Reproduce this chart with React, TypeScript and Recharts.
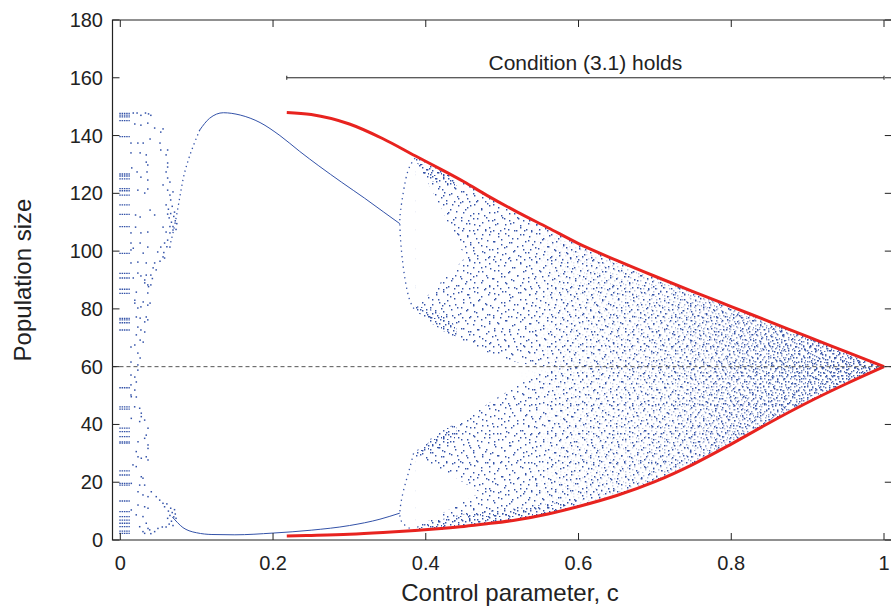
import React from "react";
import { Area, ComposedChart, Line, ReferenceArea, ReferenceLine, Scatter, XAxis, YAxis } from "recharts";

// layout (page pixels, body margin removed)
const W = 893;
const H = 608;
const PLOT_LEFT = 112.5;
const PLOT_TOP = 20;
const PLOT_RIGHT = 891.8;
const PLOT_BOTTOM = 540;

const BLUE = "#3352a8";
const RED = "#e8231f";
const INK = "#222";
const FONT = "'Liberation Sans', Arial, Helvetica, sans-serif";

const X_DOMAIN = [-0.0102, 1.0102];
const xTicks = [0, 0.2, 0.4, 0.6, 0.8, 1];
const yTicks = [0, 20, 40, 60, 80, 100, 120, 140, 160, 180];

// red envelope curves
const redC = [0.218, 0.25, 0.3, 0.344, 0.386, 0.42, 0.45, 0.48, 0.52, 0.56, 0.6, 0.65, 0.7, 0.75, 0.8, 0.85, 0.9, 0.95, 1];
const redTop = [148, 147.3, 144, 138.9, 133, 128.3, 124, 119.3, 113.5, 108.1, 102.6, 96.8, 91.3, 86, 80.8, 75.6, 70.4, 65.2, 60];
const redBottom = [1.4, 1.6, 2, 2.6, 3.3, 4, 4.7, 5.6, 7, 9, 11.6, 15.4, 20.2, 26.2, 33.2, 40.6, 47.6, 54, 60];

// chaotic band (c >= 0.386): inner edges of the upper and lower clouds
const cloudC = redC.slice(4);
const upperInner = [79.5, 73.5, 68.8, 65, 61.5, 60, 60, 60, 60, 60, 60, 60, 60, 60, 60];
const lowerInner = [30, 37, 42, 47, 53.5, 58.5, 60, 60, 60, 60, 60, 60, 60, 60, 60];

// denser streaks where the fans start
const fanTopC = [0.386, 0.41, 0.44];
const fanTopLo = [131.5, 124, 122.5];
const fanTopHi = [133, 129.8, 125.3];
const fanMidC = [0.386, 0.41, 0.44];
const fanMidLo = [79.5, 74.5, 69.8];
const fanMidHi = [81, 79.5, 74];
const fanLowC = [0.386, 0.41, 0.44];
const fanLowLo = [28.5, 31, 35.5];
const fanLowHi = [30.5, 35.8, 40.5];
const fanBotC = [0.386, 0.45, 0.52, 0.6];
const fanBotLo = [3.3, 4.7, 7, 11.6];
const fanBotHi = [4.5, 9, 11, 14];

// empty wedges inside the clouds
const holeUpC = [0.386, 0.4, 0.42, 0.44, 0.452];
const holeUpLo = [80.5, 84, 89.3, 94.5, 98];
const holeUpHi = [131.5, 125, 115, 103.5, 98.2];
const holeLowC = [0.386, 0.41, 0.44, 0.47];
const holeLowLo = [4.3, 7.5, 12, 16.3];
const holeLowHi = [29, 25.8, 21.4, 16.6];

// period-2 branches
const riseC = [0.066, 0.072, 0.078, 0.082, 0.089, 0.096, 0.104];
const riseV = [103, 110, 118.8, 124.6, 131.5, 136.7, 141.9];
const upperC = [0.104, 0.117, 0.135, 0.157, 0.183, 0.209, 0.235, 0.26, 0.29, 0.32, 0.345, 0.366];
const upperV = [141.9, 146, 147.9, 147.1, 144.5, 140, 134.5, 129.5, 123.8, 118.3, 113.5, 109.5];
const lowerC = [0.068, 0.075, 0.082, 0.09, 0.1, 0.12, 0.15, 0.2, 0.25, 0.3, 0.34, 0.366];
const lowerV = [8, 6, 4.3, 3.2, 2.5, 1.9, 1.8, 2.4, 3.4, 5, 7.2, 9.3];

// period-doubling arcs near c = 0.37
const arcUpC = [0.386, 0.377, 0.371, 0.367, 0.366, 0.367, 0.369, 0.373, 0.379, 0.386];
const arcUpV = [132.2, 128, 121, 114, 109.7, 104, 98, 90, 83, 79.5];
const arcLowC = [0.384, 0.377, 0.37, 0.366, 0.37, 0.379, 0.386];
const arcLowV = [30, 23, 16.2, 9.2, 5.8, 4, 3.4];

// left chaotic region: rows of short dashes at c = 0
const dashRows = [147.7, 147.1, 146.5, 145.2, 139.6, 126.7, 126, 125, 121.6, 120.9, 119.4, 116, 112.7, 108.5, 99.2, 92.3, 90.7, 86.8, 85.4, 76.7, 76.2, 75.2, 72.7, 52.7, 46.1, 45.3, 38.7, 37.5, 35.8, 34, 33.5, 23.9, 22.5, 19.6, 19, 13.5, 9.8, 8.1, 6.9, 5.8, 4.6, 3.1, 2.3];

// left chaotic region: scattered points [c, value]
const leftDots = [
  [0.017, 147.8], [0.022, 147.8], [0.027, 147], [0.033, 147.8], [0.037, 147.5], [0.04, 147],
  [0.019, 144], [0.027, 143.6], [0.036, 144.3], [0.045, 142.6], [0.056, 142.3], [0.053, 141.2],
  [0.014, 137.4], [0.023, 137.4], [0.03, 137.4], [0.039, 138.8], [0.052, 137.4], [0.053, 135], [0.062, 135],
  [0.014, 134], [0.026, 134], [0.034, 133.3], [0.06, 133.3], [0.062, 130.5],
  [0.034, 130.8], [0.036, 129.8], [0.062, 129.1], [0.06, 127.4], [0.015, 128.8], [0.022, 127.4], [0.035, 127.4],
  [0.027, 125.6], [0.036, 124.6], [0.062, 125.3], [0.065, 123.9], [0.056, 122.9],
  [0.023, 121.1], [0.032, 120.1], [0.036, 121.5], [0.062, 121.1], [0.065, 119.4], [0.066, 117.7], [0.069, 120.5],
  [0.06, 116], [0.063, 114.5], [0.066, 113], [0.068, 115.5], [0.07, 112], [0.072, 110.5], [0.067, 110],
  [0.064, 111.5], [0.069, 108.5], [0.074, 109.5], [0.071, 113.5], [0.065, 108.5], [0.062, 112.8], [0.073, 107.5],
  [0.02, 112.5], [0.026, 111.8], [0.039, 114.2], [0.045, 112.5],
  [0.02, 108.3], [0.027, 106.3], [0.036, 106.6], [0.056, 108.3], [0.06, 106.6], [0.065, 106.3], [0.069, 107.3],
  [0.062, 103.8], [0.058, 102.8], [0.065, 101.4],
  [0.014, 106.3], [0.014, 102.8], [0.026, 102.8], [0.036, 101.4], [0.053, 101.4], [0.017, 101],
  [0.014, 100.4], [0.03, 99.3], [0.049, 99.7], [0.056, 98], [0.058, 97.6], [0.045, 95.9], [0.034, 95.9], [0.023, 96.2], [0.014, 95.9],
  [0.023, 92.4], [0.027, 91.4], [0.034, 91.7], [0.04, 91.7], [0.043, 94.2], [0.017, 90.7], [0.032, 90], [0.032, 89],
  [0.036, 88.3], [0.04, 88.3], [0.021, 85.8], [0.036, 85.5],
  [0.037, 87.7], [0.042, 90.5], [0.047, 93.5], [0.052, 96.5], [0.057, 99.5], [0.061, 101.5],
  [0.019, 83], [0.019, 82], [0.03, 82.4], [0.036, 81.3], [0.039, 82], [0.023, 80.3], [0.027, 80.7],
  [0.021, 77.2], [0.026, 76.8], [0.032, 75.5], [0.034, 77.2], [0.036, 76.2], [0.023, 73.7], [0.027, 72.7],
  [0.021, 71], [0.032, 72], [0.026, 69.2], [0.03, 68.5], [0.014, 66.8], [0.019, 67.5],
  [0.023, 64.7], [0.026, 63], [0.023, 60.6], [0.014, 61.6], [0.023, 58.8], [0.014, 57.1], [0.019, 56.4],
  [0.021, 54.7], [0.014, 53.7], [0.019, 51.9], [0.014, 50.2], [0.021, 49.5],
  [0.0144, 49.6], [0.0188, 46.1], [0.0254, 45.6], [0.0275, 43.9], [0.0144, 42.1], [0.0254, 41], [0.0275, 42.7],
  [0.0319, 41.5], [0.0363, 38.7], [0.034, 36.3], [0.0319, 35.2], [0.0232, 34], [0.0363, 32.9], [0.0363, 31.7],
  [0.0209, 30.6], [0.0232, 28.8], [0.0275, 28.3], [0.034, 28.8], [0.0363, 27.7], [0.0166, 26], [0.0209, 25.4],
  [0.0275, 21.9], [0.0297, 21.4], [0.0144, 19.6], [0.0254, 19], [0.0319, 19], [0.0232, 16.7], [0.0297, 15.6],
  [0.0363, 15], [0.0232, 12.1], [0.0319, 11.5], [0.0363, 11], [0.0144, 10.4], [0.0209, 8.7], [0.0297, 8.1],
  [0.034, 5.8], [0.0254, 4.6], [0.0363, 4], [0.0297, 2.9], [0.0385, 3.5], [0.045, 2.9], [0.0493, 4],
  [0.0319, 2.3], [0.04, 2.2], [0.055, 4.5],
  [0.0406, 16.7], [0.0471, 15], [0.0516, 13.8], [0.0559, 12.7],
  [0.058, 11.5], [0.061, 12.5], [0.063, 10], [0.065, 8.5], [0.066, 11], [0.068, 9.5], [0.07, 8], [0.067, 6.5],
  [0.064, 5.5], [0.071, 10.5], [0.073, 7.5], [0.062, 7.5], [0.069, 5], [0.06, 4.5], [0.072, 9],
];

// annotation
const holdsFrom = 0.218;
const holdsTo = 1.0;
const holdsLevel = 160;
const equilibrium = 60;

const pts = (cs: number[], vs: number[]) => cs.map((c, i) => ({ c, v: vs[i] }));
const band = (cs: number[], lo: number[], hi: number[]) => cs.map((c, i) => ({ c, r: [lo[i], hi[i]] }));

const upperCloud = band(cloudC, upperInner, redTop.slice(4));
const lowerCloud = band(cloudC, redBottom.slice(4), lowerInner);
const midBand = band(cloudC.slice(4), redBottom.slice(8), redTop.slice(8));
const denseBand = band(cloudC.slice(8), redBottom.slice(12), redTop.slice(12));

// dot textures for the chaotic clouds
const sq = (list: number[][], s: number) => list.map(([x, y]) => `M${x} ${y}h${s}v${s}h${-s}z`).join("");
const TEX_SPARSE = sq([[3, 2], [12, 6], [18, 1], [28, 3], [34, 7], [6, 11], [16, 13], [22, 8], [31, 12], [39, 9], [1, 19], [9, 17], [19, 20], [25, 16], [36, 18], [5, 26], [14, 24], [22, 28], [30, 23], [38, 27], [10, 32], [17, 35], [26, 33], [33, 30], [2, 34], [37, 35]], 1.4);
const TEX_MID = sq([[2, 4], [9, 1], [16, 6], [24, 2], [29, 9], [5, 12], [13, 10], [21, 14], [27, 17], [1, 20], [9, 21], [17, 19], [24, 24], [4, 27], [12, 26], [20, 27], [28, 27], [8, 15]], 1.4);
const TEX_DENSE = sq([[1, 1], [6, 2], [10, 4], [3, 5], [8, 7], [12, 8], [1, 9], [5, 10]], 1.4);
const TEX_DENSE2 = sq([[2, 0], [7, 3], [0, 5], [4, 7], [9, 8], [6, 11], [1, 12]], 1.4);

const dotShape = (props: any) => (
  <rect x={props.cx - 0.75} y={props.cy - 0.75} width={1.5} height={1.5} fill={BLUE} />
);

const dashShape = (props: any) => (
  <line x1={props.cx - 1} x2={props.cx + 9.5} y1={props.cy} y2={props.cy} stroke={BLUE} strokeWidth={1.3} strokeDasharray="1.5 0.8" />
);

const XTick = (props: any) => {
  const { x, payload } = props;
  return (
    <g>
      <line x1={x} x2={x} y1={PLOT_BOTTOM} y2={PLOT_BOTTOM - 7} stroke={INK} />
      <line x1={x} x2={x} y1={PLOT_TOP} y2={PLOT_TOP + 7} stroke={INK} />
      <text x={x} y={PLOT_BOTTOM + 30} textAnchor="middle" fontSize={20} fontFamily={FONT} fill={INK}>
        {payload.value}
      </text>
    </g>
  );
};

const YTick = (props: any) => {
  const { y, payload } = props;
  return (
    <g>
      <line x1={PLOT_LEFT} x2={PLOT_LEFT + 7} y1={y} y2={y} stroke={INK} />
      <line x1={PLOT_RIGHT} x2={PLOT_RIGHT - 7} y1={y} y2={y} stroke={INK} />
      <text x={PLOT_LEFT - 9.5} y={y + 7} textAnchor="end" fontSize={20} fontFamily={FONT} fill={INK}>
        {payload.value}
      </text>
    </g>
  );
};

const cloud = (data: any[], fill: string, extra: any = {}) => (
  <Area data={data} dataKey="r" type="monotone" stroke="none" fill={fill} fillOpacity={1} isAnimationActive={false} {...extra} />
);

export default function App() {
  return (
    <div style={{ width: W, height: H }}>
      <style>{`body{margin:0;overflow:hidden} .fade-mid path{mask:url(#fadeMid)} .fade-dense path{mask:url(#fadeDense)}`}</style>
      <ComposedChart width={W} height={H} margin={{ top: PLOT_TOP, right: W - PLOT_RIGHT, bottom: 0, left: 0 }}>
        <defs>
          <pattern id="texSparse" width={41} height={37} patternUnits="userSpaceOnUse">
            <path d={TEX_SPARSE} fill={BLUE} />
          </pattern>
          <pattern id="texMid" width={31} height={29} patternUnits="userSpaceOnUse">
            <path d={TEX_MID} fill={BLUE} />
          </pattern>
          <pattern id="texDense" width={13} height={11} patternUnits="userSpaceOnUse">
            <path d={TEX_DENSE} fill={BLUE} />
          </pattern>
          <pattern id="texDense2" width={11} height={14} patternUnits="userSpaceOnUse">
            <path d={TEX_DENSE2} fill={BLUE} />
          </pattern>
          <linearGradient id="rampRight" x1="0" x2="1" y1="0" y2="0">
            <stop offset="0" stopColor="#fff" stopOpacity={0} />
            <stop offset="1" stopColor="#fff" stopOpacity={1} />
          </linearGradient>
          <mask id="fadeMid" maskContentUnits="objectBoundingBox">
            <rect width="1" height="1" fill="url(#rampRight)" />
          </mask>
          <mask id="fadeDense" maskContentUnits="objectBoundingBox">
            <rect width="1" height="1" fill="url(#rampRight)" />
          </mask>
        </defs>

        <XAxis
          type="number"
          dataKey="c"
          domain={X_DOMAIN}
          allowDataOverflow
          ticks={xTicks}
          interval={0}
          height={H - PLOT_BOTTOM}
          axisLine={false}
          tickLine={false}
          tickSize={0}
          tick={<XTick />}
        />
        <YAxis
          type="number"
          domain={[0, 180]}
          allowDataOverflow
          ticks={yTicks}
          interval={0}
          width={PLOT_LEFT}
          axisLine={false}
          tickLine={false}
          tickSize={0}
          tick={<YTick />}
        />

        {/* chaotic clouds */}
        {cloud(upperCloud, "url(#texSparse)")}
        {cloud(upperCloud, "url(#texMid)")}
        {cloud(lowerCloud, "url(#texSparse)")}
        {cloud(lowerCloud, "url(#texMid)")}
        {cloud(midBand, "url(#texDense)", { className: "fade-mid" })}
        {cloud(denseBand, "url(#texDense2)", { className: "fade-dense" })}
        {cloud(band(fanTopC, fanTopLo, fanTopHi), "url(#texDense)")}
        {cloud(band(fanMidC, fanMidLo, fanMidHi), "url(#texDense)")}
        {cloud(band(fanLowC, fanLowLo, fanLowHi), "url(#texDense)")}
        {cloud(band(fanBotC, fanBotLo, fanBotHi), "url(#texDense)")}
        <Area data={band(holeUpC, holeUpLo, holeUpHi)} dataKey="r" type="linear" stroke="none" fill="#fff" fillOpacity={1} isAnimationActive={false} />
        <Area data={band(holeLowC, holeLowLo, holeLowHi)} dataKey="r" type="linear" stroke="none" fill="#fff" fillOpacity={1} isAnimationActive={false} />

        {/* periodic branches */}
        <Line data={pts(riseC, riseV)} dataKey="v" type="monotone" stroke={BLUE} strokeWidth={1.3} strokeDasharray="1.3 3.5" dot={false} activeDot={false} isAnimationActive={false} />
        <Line data={pts(upperC, upperV)} dataKey="v" type="monotone" stroke={BLUE} strokeWidth={1} dot={false} activeDot={false} isAnimationActive={false} />
        <Line data={pts(lowerC, lowerV)} dataKey="v" type="monotone" stroke={BLUE} strokeWidth={1} dot={false} activeDot={false} isAnimationActive={false} />
        <Line data={pts(arcUpC, arcUpV)} dataKey="v" type="natural" stroke={BLUE} strokeWidth={1.3} strokeDasharray="1.3 4" dot={false} activeDot={false} isAnimationActive={false} />
        <Line data={pts(arcLowC, arcLowV)} dataKey="v" type="natural" stroke={BLUE} strokeWidth={1.3} strokeDasharray="1.3 4" dot={false} activeDot={false} isAnimationActive={false} />

        <Scatter data={dashRows.map((v) => ({ c: 0, v }))} dataKey="v" shape={dashShape} isAnimationActive={false} />
        <Scatter data={leftDots.map(([c, v]) => ({ c, v }))} dataKey="v" shape={dotShape} isAnimationActive={false} />

        {/* envelope */}
        <Line data={pts(redC, redTop)} dataKey="v" type="monotone" stroke={RED} strokeWidth={3} dot={false} activeDot={false} isAnimationActive={false} />
        <Line data={pts(redC, redBottom)} dataKey="v" type="monotone" stroke={RED} strokeWidth={3} dot={false} activeDot={false} isAnimationActive={false} />

        <ReferenceLine y={equilibrium} stroke="#555" strokeWidth={1} strokeDasharray="4 3" />
        <ReferenceLine
          segment={[{ x: holdsFrom, y: holdsLevel }, { x: holdsTo, y: holdsLevel }]}
          stroke={INK}
          strokeWidth={1}
          label={{ value: "Condition (3.1) holds", position: "top", offset: 8, fontSize: 21, fontFamily: FONT, fill: INK }}
        />
        <ReferenceLine segment={[{ x: holdsFrom, y: holdsLevel - 0.7 }, { x: holdsFrom, y: holdsLevel + 0.7 }]} stroke={INK} />
        <ReferenceLine segment={[{ x: holdsTo, y: holdsLevel - 0.7 }, { x: holdsTo, y: holdsLevel + 0.7 }]} stroke={INK} />
        <ReferenceArea x1={X_DOMAIN[0]} x2={X_DOMAIN[1]} y1={0} y2={180} fill="none" stroke={INK} strokeWidth={1.2} />

        <text x={510} y={601} textAnchor="middle" fontSize={24} fontFamily={FONT} fill={INK}>
          Control parameter, c
        </text>
        <text x={22} y={280} transform="rotate(-90 22 280)" textAnchor="middle" dominantBaseline="central" fontSize={24} fontFamily={FONT} fill={INK}>
          Population size
        </text>
      </ComposedChart>
    </div>
  );
}
